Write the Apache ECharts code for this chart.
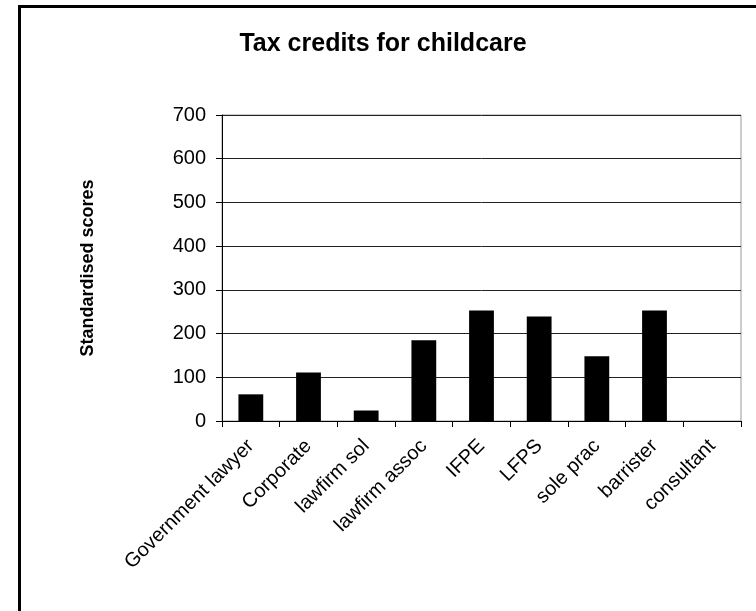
<!DOCTYPE html>
<html>
<head>
<meta charset="utf-8">
<script src="https://cdn.jsdelivr.net/npm/echarts@6/dist/echarts.min.js"></script>
<style>
html,body{margin:0;padding:0;background:#fff;}
#chart{width:756px;height:611px;}
</style>
</head>
<body>
<div id="chart"></div>
<script>
var categories = ["Government lawyer","Corporate","lawfirm sol","lawfirm assoc","IFPE","LFPS","sole prac","barrister","consultant"];
var scores = [61, 111, 24, 185, 253, 239, 148, 253, 0];
var yTicks = [0, 100, 200, 300, 400, 500, 600, 700];

var chart = echarts.init(document.getElementById('chart'), null, {renderer:'canvas'});
var font = 'Liberation Sans, Arial, sans-serif';
chart.setOption({
  animation: false,
  backgroundColor: '#fff',
  graphic: [{
    type: 'rect', left: 17, top: 4,
    shape: {x: 0, y: 0, width: 800, height: 700},
    style: {fill: 'none', stroke: '#000', lineWidth: 3},
    silent: true
  }],
  title: {
    text: 'Tax credits for childcare',
    left: 378, top: 27, textAlign: 'center',
    textStyle: {fontFamily: font, fontWeight: 'bold', fontSize: 25, color: '#000'}
  },
  grid: {left: 222, right: 15, top: 115, bottom: 190, show: true, borderColor: '#999', borderWidth: 1, backgroundColor: 'transparent'},
  xAxis: {
    type: 'category',
    data: categories,
    axisLine: {lineStyle: {color: '#000', width: 1}},
    axisTick: {show: true, inside: false, length: 6, alignWithLabel: false, lineStyle: {color: '#000'}},
    axisLabel: {rotate: 45, interval: 0, fontFamily: font, fontSize: 20, color: '#000', margin: 22},
    splitLine: {show: false}
  },
  yAxis: {
    type: 'value',
    min: yTicks[0], max: yTicks[yTicks.length-1], interval: 100,
    name: 'Standardised scores',
    nameLocation: 'middle', nameGap: 125, nameRotate: 90,
    nameTextStyle: {fontFamily: font, fontWeight: 'bold', fontSize: 18, color: '#000'},
    axisLine: {show: true, lineStyle: {color: '#000', width: 1}},
    axisTick: {show: true, length: 6, lineStyle: {color: '#000'}},
    axisLabel: {fontFamily: font, fontSize: 20, color: '#000', margin: 16},
    splitLine: {show: true, lineStyle: {color: '#222', width: 1}}
  },
  series: [{
    type: 'bar',
    data: scores,
    barCategoryGap: '57%',
    itemStyle: {color: '#000'},
    silent: true
  }]
});
</script>
</body>
</html>
